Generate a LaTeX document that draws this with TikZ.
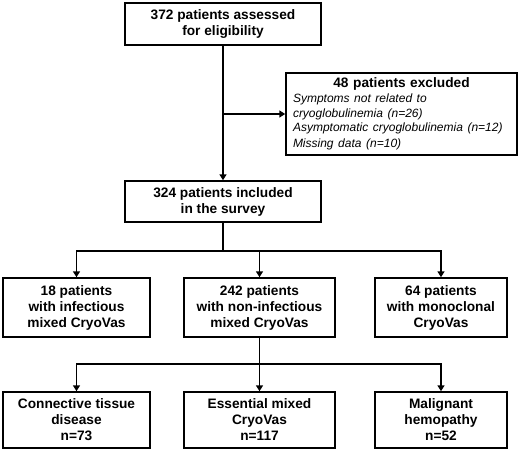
\documentclass[tikz,border=0pt]{standalone}
\usepackage{fontspec}
\setmainfont{Liberation Sans}
\usepackage{tikz}
\usetikzlibrary{arrows.meta,calc}
\tikzstyle{box} = [draw, line width=1.5pt, align=center, inner sep=0pt, font=\bfseries\fontsize{13.7}{16}\selectfont]
\tikzstyle{link} = [line width=1.5pt]
\tikzstyle{arr} = [line width=1.5pt, -{Triangle[length=6pt,width=7pt]}]

\begin{document}
\begin{tikzpicture}[x=1pt,y=-1pt]
	\useasboundingbox (0,0) rectangle (520,453);
	\node [box, minimum width=196pt, minimum height=42pt] (assessed) at (223,24) {372 patients assessed\\for eligibility};
	\node [box, minimum width=231pt, minimum height=82pt, text width=217pt, align=left] (excluded) at (401.5,114)
		{{\centering 48 patients excluded\par}
		\fontsize{12}{14.6}\selectfont\mdseries\itshape Symptoms not related to\\cryoglobulinemia (n=26)\\Asymptomatic cryoglobulinemia (n=12)\\Missing data (n=10)};
	\node [box, minimum width=196pt, minimum height=41pt] (included) at (223,201.5) {324 patients included\\in the survey};
	\node [box, minimum width=147pt, minimum height=59pt] (infectious) at (76.5,307.5) {18 patients\\with infectious\\mixed CryoVas};
	\node [box, minimum width=151pt, minimum height=59pt] (noninf) at (259.5,307.5) {242 patients\\with non-infectious\\mixed CryoVas};
	\node [box, minimum width=132pt, minimum height=59pt] (monoclonal) at (441,307.5) {64 patients\\with monoclonal\\CryoVas};
	\node [box, minimum width=147pt, minimum height=56pt] (connective) at (76.5,420) {Connective tissue\\disease\\n=73};
	\node [box, minimum width=151pt, minimum height=56pt] (essential) at (259.5,420) {Essential mixed\\CryoVas\\n=117};
	\node [box, minimum width=132pt, minimum height=56pt] (malignant) at (441,420) {Malignant\\hemopathy\\n=52};

	\coordinate (split) at (assessed.south |- excluded.west);
	\coordinate (fork1) at ($(included.south)+(0,28)$);
	\coordinate (fork2) at ($(noninf.south)+(0,26)$);

	\draw [arr] (assessed) -- (included);
	\draw [arr] (split) -- (excluded);
	\draw [link] (included) -- (fork1);
	\draw [arr] (fork1) -| (infectious);
	\draw [arr] (fork1) -| (noninf);
	\draw [arr] (fork1) -| (monoclonal);
	\draw [link] (noninf) -- (fork2);
	\draw [arr] (fork2) -| (connective);
	\draw [arr] (fork2) -- (essential);
	\draw [arr] (fork2) -| (malignant);
\end{tikzpicture}
\end{document}
